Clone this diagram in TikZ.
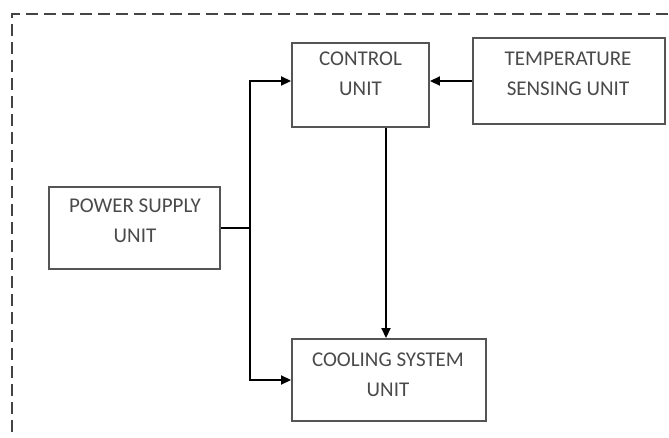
\documentclass[tikz,border=0pt]{standalone}
\usepackage{fontspec}
\setmainfont{Carlito}
\usetikzlibrary{arrows.meta}
\definecolor{boxcol}{HTML}{555555}
\definecolor{txtcol}{HTML}{4A4A4A}
\definecolor{dashcol}{HTML}{444444}
\tikzset{
  unitbox/.style={draw=boxcol, line width=1.9pt, inner sep=0pt, fill=white},
  unittext/.style={anchor=north, inner sep=0pt, align=center, text=txtcol,
    font=\fontsize{21}{30}\selectfont},
  conn/.style={draw=black, line width=1.8pt},
  arr/.style={conn, -{Triangle[length=10pt,width=9pt]}},
  frame/.style={draw=dashcol, line width=2.8pt, dash pattern=on 12pt off 6pt}
}
\begin{document}
\begin{tikzpicture}[x=1pt,y=-1pt]
\useasboundingbox (0,0) rectangle (669,437);
\draw[frame] (12,450) -- (12,14) -- (680,14);

\node[unitbox, minimum width=137pt, minimum height=84pt] (ctrl) at (360.5,85) {};
\node[unittext] (ctrlt) at (360.5,52) {CONTROL\\UNIT};

\node[unitbox, minimum width=192pt, minimum height=86pt] (temp) at (569,81) {};
\node[unittext] (tempt) at (568,52) {TEMPERATURE\\SENSING UNIT};

\node[unitbox, minimum width=171pt, minimum height=82pt] (power) at (134.5,228) {};
\node[unittext] (powert) at (135,199) {POWER SUPPLY\\UNIT};

\node[unitbox, minimum width=194pt, minimum height=82pt] (cool) at (389,380) {};
\node[unittext] (coolt) at (388,353) {COOLING SYSTEM\\UNIT};

\coordinate (j) at (250,228);
\draw[conn] (power.east) -- (j);
\draw[arr] (j) |- ([yshift=4pt]ctrl.west);
\draw[arr] (j) |- (cool.west);
\draw[arr] (temp.west) -- (temp.west -| ctrl.east);
\draw[arr] ([xshift=25.5pt]ctrl.south) -- ([xshift=25.5pt]ctrl.south |- cool.north);
\end{tikzpicture}
\end{document}
